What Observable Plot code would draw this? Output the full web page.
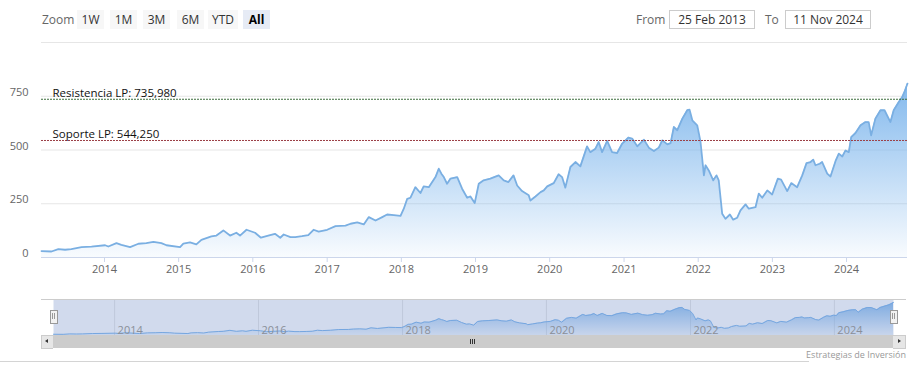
<!DOCTYPE html>
<html><head><meta charset="utf-8">
<script src="https://cdn.jsdelivr.net/npm/d3@7"></script>
<script src="https://cdn.jsdelivr.net/npm/@observablehq/plot@0.6"></script>
<style>
body{margin:0;background:#fff;font-family:"Open Sans",sans-serif;}
#wrap{position:relative;width:913px;height:380px;overflow:hidden;background:#fff;}
.lbl{position:absolute;top:10px;font-size:12px;color:#666;line-height:19px;}
.btn{position:absolute;top:10px;height:19px;line-height:19px;font-size:12px;color:#333;background:#f7f7f7;text-align:center;}
.btn.sel{background:#e6ebf5;font-weight:bold;color:#000;}
.inp{position:absolute;top:10px;width:84px;height:17px;line-height:17px;border:1px solid #ccc;font-size:12px;color:#333;text-align:center;}
.abs{position:absolute;}
#main,#nav{position:absolute;left:0;}
#main{top:40px;}
#nav{top:290px;}
</style></head>
<body><div id="wrap">
<div id="selector"></div>
<div id="main"></div>
<div id="nav"></div>
<div id="scroll"></div>
</div>
<script>
// ---- data ----
const dates = ["2013-02-25","2013-04-15","2013-05-19","2013-06-21","2013-07-22","2013-09-10","2013-10-29",
"2014-01-04","2014-01-20","2014-03-01","2014-03-25","2014-05-07","2014-06-17","2014-07-26","2014-08-30","2014-10-08","2014-11-02",
"2015-01-08","2015-01-24","2015-02-26","2015-03-29","2015-04-23","2015-06-11","2015-07-06","2015-08-09","2015-09-11","2015-10-12","2015-10-30","2015-12-01",
"2016-01-12","2016-02-10","2016-03-17","2016-04-19","2016-05-15","2016-06-01","2016-07-04","2016-07-28","2016-08-30","2016-09-30","2016-10-26","2016-11-20",
"2017-01-01","2017-02-11","2017-04-01","2017-04-26","2017-05-29","2017-06-30","2017-07-25","2017-08-27","2017-09-29","2017-10-23","2017-11-25","2017-12-28",
"2018-01-13","2018-01-30","2018-02-15","2018-03-11","2018-04-05","2018-04-21","2018-05-16","2018-06-18","2018-07-04","2018-07-17","2018-07-29","2018-08-14","2018-08-31","2018-10-03","2018-10-27","2018-11-21","2018-12-07","2018-12-28",
"2019-01-17","2019-02-10","2019-03-15","2019-04-25","2019-05-20","2019-06-12","2019-07-07","2019-07-25","2019-08-18","2019-09-20","2019-09-28","2019-10-23","2019-11-17","2019-12-03","2019-12-20",
"2020-01-21","2020-02-14","2020-03-02","2020-03-18","2020-04-12","2020-05-07","2020-05-31","2020-07-03","2020-07-19","2020-08-13","2020-08-29","2020-09-15","2020-10-10","2020-11-03","2020-11-28","2020-12-23",
"2021-01-22","2021-02-10","2021-03-07","2021-04-09","2021-05-03","2021-05-28","2021-06-21","2021-07-08","2021-08-02","2021-08-18","2021-09-03","2021-09-20","2021-10-15","2021-11-08","2021-11-19","2021-12-03","2021-12-27",
"2022-01-12","2022-01-29","2022-02-06","2022-02-22","2022-03-16","2022-04-01","2022-04-12","2022-04-29","2022-05-15","2022-06-06","2022-06-22","2022-07-12","2022-07-28","2022-08-22","2022-09-07","2022-10-10","2022-10-26","2022-11-12","2022-12-07","2022-12-31",
"2023-01-28","2023-02-13","2023-03-15","2023-04-04","2023-05-03","2023-05-28","2023-06-18","2023-07-08","2023-07-21","2023-08-01","2023-08-22","2023-09-03","2023-09-28","2023-10-14","2023-11-08","2023-11-24","2023-12-11","2023-12-27",
"2024-01-12","2024-01-24","2024-02-14","2024-03-10","2024-04-03","2024-04-19","2024-05-01","2024-05-22","2024-06-16","2024-07-06","2024-08-04","2024-08-20","2024-09-14","2024-10-01","2024-10-12","2024-10-27"];
const values = [30,28,39,36,39,48,51,
57,51,67,59,48,64,67,73,67,57,
48,64,70,61,82,98,102,126,102,115,102,129,
115,92,102,110,92,107,95,95,99,104,129,120,
129,146,148,157,163,154,188,172,188,200,197,194,
227,273,278,327,300,331,327,374,413,390,374,343,367,374,320,278,284,253,
343,359,367,382,359,351,382,335,309,289,265,284,304,312,331,
346,387,374,325,421,444,424,517,490,506,537,490,542,490,486,530,
558,553,517,548,511,495,511,545,526,532,607,592,646,685,688,638,615,
540,382,429,405,359,382,359,203,180,200,176,185,219,247,227,234,297,278,312,293,
367,362,309,346,327,382,439,444,455,429,436,444,390,377,449,483,470,498,
490,560,579,615,630,630,568,646,685,685,630,685,723,747,770,809];
const yTicks = [0, 250, 500, 750];
const yGrid = [0, 250, 500, 750, 1000];
const xTickYears = [2014,2015,2016,2017,2018,2019,2020,2021,2022,2023,2024];
const navTickYears = [2014,2016,2018,2020,2022,2024];
const resistance = 735.98, support = 544.25;
const resLabel = "Resistencia LP: 735,980";
const supLabel = "Soporte LP: 544,250";
const zoomButtons = ["1W","1M","3M","6M","YTD","All"];
const fromText = "25 Feb 2013", toText = "11 Nov 2024";
const credit = "Estrategias de Inversión";

// ---- range selector (HTML) ----
const sel = document.getElementById("selector");
const btnLeft = [77,110,143,177,208,243], btnW = [27,27,27,27,30,27];
let html = '<div class="lbl" style="left:42px">Zoom</div>';
zoomButtons.forEach((b,i)=>{
  html += `<div class="btn${b==="All"?" sel":""}" style="left:${btnLeft[i]}px;width:${btnW[i]}px">${b}</div>`;
});
html += `<div class="lbl" style="left:636px">From</div><div class="inp" style="left:669px">${fromText}</div>`;
html += `<div class="lbl" style="left:765px">To</div><div class="inp" style="left:785px">${toText}</div>`;
sel.innerHTML = html;

// ---- charts ----
const data = dates.map((d,i)=>({date:new Date(d+"T00:00:00Z"), value:values[i]}));
const xDomain = [data[0].date, data[data.length-1].date];
const xTicks = xTickYears.map(y=>new Date(Date.UTC(y,0,1)));
const navTicks = navTickYears.map(y=>new Date(Date.UTC(y,0,1)));

function gradient(id, top, bottom){
  return () => {
    const g = d3.create("svg:defs");
    const lg = g.append("linearGradient").attr("id",id).attr("x1",0).attr("y1",0).attr("x2",0).attr("y2",1);
    lg.append("stop").attr("offset","0").attr("stop-color","#7cb5ec").attr("stop-opacity",top);
    lg.append("stop").attr("offset","1").attr("stop-color","#7cb5ec").attr("stop-opacity",bottom);
    return g.node();
  };
}

const main = Plot.plot({
  width:913, height:250, marginTop:2, marginBottom:33, marginLeft:41, marginRight:6,
  style:{fontFamily:"Open Sans", fontSize:"11px", background:"transparent", overflow:"visible"},
  x:{type:"utc", domain:xDomain, label:null},
  y:{domain:[0,1000], label:null},
  marks:[
    gradient("gMain", 0.95, 0.05),
    Plot.ruleY(yGrid, {stroke:"#e6e6e6"}),
    Plot.areaY(data, {x:"date", y:"value", fill:"url(#gMain)"}),
    Plot.lineY(data, {x:"date", y:"value", stroke:"#7aafe2", strokeWidth:1.8}),
    Plot.ruleY([resistance], {stroke:"#3d6e3d", strokeDasharray:"2,1"}),
    Plot.ruleY([support], {stroke:"#9b3f46", strokeDasharray:"2,1"}),
    Plot.text([{x:xDomain[0], y:resistance, t:resLabel}], {x:"x", y:"y", text:"t", textAnchor:"start", lineAnchor:"bottom", dx:11, dy:-2, fill:"#111", fontSize:11.5}),
    Plot.text([{x:xDomain[0], y:support, t:supLabel}], {x:"x", y:"y", text:"t", textAnchor:"start", lineAnchor:"bottom", dx:11, dy:-2, fill:"#111", fontSize:11.5}),
    Plot.ruleY([0], {stroke:"#ccd6eb"}),
    Plot.axisX(xTicks, {tickFormat:"%Y", tickSize:5, tickPadding:3, stroke:"#ccd6eb", fill:"#666", label:null}),
    Plot.axisY(yTicks, {tickSize:0, tickPadding:13, dy:-4, fill:"#666", label:null})
  ]
});
document.getElementById("main").appendChild(main);

const nav = Plot.plot({
  width:913, height:70, marginTop:9, marginBottom:25, marginLeft:53, marginRight:20,
  style:{fontFamily:"Open Sans", fontSize:"11px", background:"transparent", overflow:"visible"},
  x:{type:"utc", domain:xDomain, label:null, axis:null},
  y:{domain:[0,882], label:null, axis:null},
  marks:[
    gradient("gNav", 0.9, 0.1),
    Plot.ruleX(navTicks, {stroke:"#e6e6e6"}),
    Plot.areaY(data, {x:"date", y:"value", fill:"url(#gNav)"}),
    Plot.lineY(data, {x:"date", y:"value", stroke:"#7cb5ec", strokeWidth:1}),
    Plot.frame({fill:"rgba(102,133,194,0.3)", stroke:null}),
    Plot.text(navTicks, {x:d=>d, text:d=>String(d.getUTCFullYear()), frameAnchor:"bottom", textAnchor:"start", lineAnchor:"bottom", dx:3, dy:-2, fill:"#8a8f99"})
  ]
});
document.getElementById("nav").appendChild(nav);

// ---- navigator decorations, scrollbar, credit ----
const sc = document.getElementById("scroll");
sc.innerHTML = `
<div class="abs" style="left:41px;top:299px;width:865px;height:1px;background:#ccc"></div>
<div class="abs" style="left:41px;top:335px;width:11px;height:12px;background:#e6e6e6;border:1px solid #ccc;border-right:none"></div>
<div class="abs" style="left:45px;top:339px;width:0;height:0;border-top:2.5px solid transparent;border-bottom:2.5px solid transparent;border-right:3px solid #333"></div>
<div class="abs" style="left:53px;top:335px;width:840px;height:13px;background:#cccccc"></div>
<div class="abs" style="left:893px;top:335px;width:12px;height:12px;background:#e6e6e6;border:1px solid #ccc;border-left:none"></div>
<div class="abs" style="left:898px;top:339px;width:0;height:0;border-top:2.5px solid transparent;border-bottom:2.5px solid transparent;border-left:3px solid #333"></div>
<div class="abs" style="left:470px;top:339px;width:1px;height:5px;background:#333"></div>
<div class="abs" style="left:472px;top:339px;width:1px;height:5px;background:#333"></div>
<div class="abs" style="left:474px;top:339px;width:1px;height:5px;background:#333"></div>
<div class="abs" style="left:50px;top:310px;width:6px;height:12px;background:#f2f2f2;border:1px solid #999"></div>
<div class="abs" style="left:52px;top:313px;width:1px;height:6px;background:#999"></div>
<div class="abs" style="left:54px;top:313px;width:1px;height:6px;background:#999"></div>
<div class="abs" style="left:890px;top:310px;width:6px;height:12px;background:#f2f2f2;border:1px solid #999"></div>
<div class="abs" style="left:892px;top:313px;width:1px;height:6px;background:#999"></div>
<div class="abs" style="left:894px;top:313px;width:1px;height:6px;background:#999"></div>
<div class="abs" style="left:0;top:361px;width:809px;height:1px;background:#d4d4d4"></div>
<div class="abs" style="right:7px;top:349px;font-size:9px;line-height:12px;color:#999">${credit}</div>
`;
</script>
</body></html>
